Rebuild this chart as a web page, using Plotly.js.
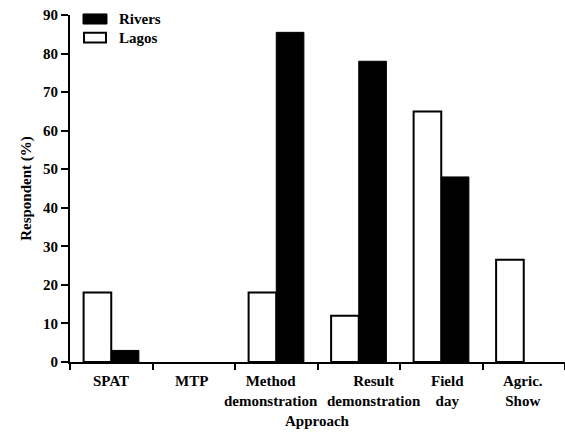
<!DOCTYPE html>
<html>
<head>
<meta charset="utf-8">
<script src="https://cdn.plot.ly/plotly-3.0.1.min.js"></script>
<style>html,body{margin:0;padding:0;background:#fff;}#chart{width:565px;height:432px;}</style>
</head>
<body>
<div id="chart"></div>
<script>
const categories = ['SPAT', 'MTP', 'Method<br>demonstration', 'Result<br>demonstration', 'Field<br>day', 'Agric.<br>Show'];
const lagos = [18, 0, 18, 12, 65, 26.5];
const rivers = [3, 0, 85.5, 78, 48, 0];
const seriesNames = ['Rivers', 'Lagos'];
const yTitle = 'Respondent (%)';
const xTitle = 'Approach';

// label pixel nudges (layout only)
const labelShift = [0, -2, -5, 15, 6, -1];

const FONT = 'Liberation Serif';
const f = (s) => ({family: FONT, size: s, color: '#000', weight: 'bold'});

const traces = [
  {type: 'bar', name: seriesNames[1], x: categories, y: lagos,
   marker: {color: '#fff', line: {color: '#000', width: lagos.map(v => v > 0 ? 2 : 0)}}, showlegend: false},
  {type: 'bar', name: seriesNames[0], x: categories, y: rivers,
   marker: {color: '#000', line: {color: '#000', width: rivers.map(v => v > 0 ? 1 : 0)}}, showlegend: false}
];

const catLabels = categories.map((c, i) => ({
  xref: 'x', yref: 'paper', x: c, y: 0, xanchor: 'center', yanchor: 'top',
  yshift: -9, xshift: labelShift[i], text: c, showarrow: false, font: f(15)
}));

const layout = {
  width: 565, height: 432,
  margin: {l: 70, r: 0, t: 15, b: 70},
  paper_bgcolor: '#fff', plot_bgcolor: '#fff',
  font: f(15),
  barmode: 'group', bargap: 0.33, bargroupgap: 0,
  showlegend: false,
  xaxis: {
    type: 'category', range: [-0.5, 5.5],
    showline: true, linecolor: '#000', linewidth: 2,
    ticks: 'outside', tickson: 'boundaries', ticklen: 6, tickwidth: 2, tickcolor: '#000',
    showticklabels: false, showgrid: false, zeroline: false
  },
  yaxis: {
    range: [0, 90], dtick: 10, tick0: 0,
    showline: true, linecolor: '#000', linewidth: 2,
    ticks: 'outside', ticklen: 7, tickwidth: 2, tickcolor: '#000',
    tickfont: f(15), showgrid: false, zeroline: false,
    title: {text: yTitle, font: f(15), standoff: 8}
  },
  shapes: [
    {type: 'rect', xref: 'paper', yref: 'paper', x0: 0.0263, x1: 0.0747, y0: 0.974, y1: 1.003,
     fillcolor: '#000', line: {color: '#000', width: 1}},
    {type: 'rect', xref: 'paper', yref: 'paper', x0: 0.0283, x1: 0.0727, y0: 0.921, y1: 0.949,
     fillcolor: '#fff', line: {color: '#000', width: 2}}
  ],
  annotations: [
    {xref: 'paper', yref: 'paper', x: 0.095, y: 0.9885, xanchor: 'left', yanchor: 'middle',
     text: seriesNames[0], showarrow: false, font: f(15)},
    {xref: 'paper', yref: 'paper', x: 0.095, y: 0.935, xanchor: 'left', yanchor: 'middle',
     text: seriesNames[1], showarrow: false, font: f(15)},
    {xref: 'paper', yref: 'paper', x: 0.5, y: -0.142, xanchor: 'center', yanchor: 'top',
     text: xTitle, showarrow: false, font: f(15)}
  ].concat(catLabels)
};

Plotly.newPlot('chart', traces, layout, {displayModeBar: false, staticPlot: true});
</script>
</body>
</html>
